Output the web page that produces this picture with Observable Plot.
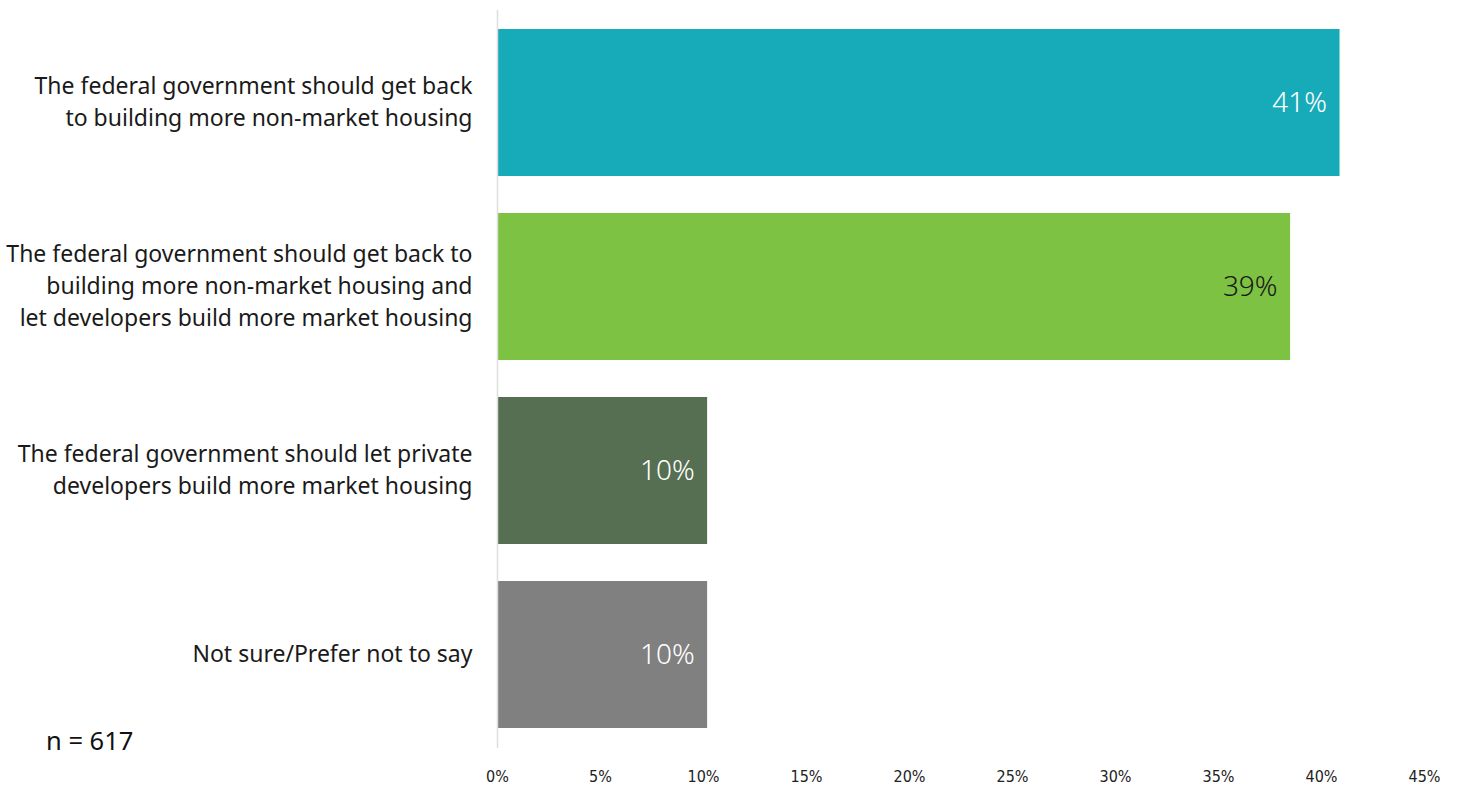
<!DOCTYPE html>
<html>
<head>
<meta charset="utf-8">
<script src="https://cdn.jsdelivr.net/npm/d3@7"></script>
<script src="https://cdn.jsdelivr.net/npm/@observablehq/plot@0.6"></script>
<style>
  html, body { margin: 0; padding: 0; background: #fff; }
  #chart { position: relative; width: 1457px; height: 786px; }
  #n { position: absolute; left: 46px; top: 723px; font: 25.5px "Noto Sans", sans-serif; color: #111; }
</style>
</head>
<body>
<div id="chart"><div id="n">n = 617</div></div>
<script>
const categories = [
  "The federal government should get back\nto building more non-market housing",
  "The federal government should get back to\nbuilding more non-market housing and\nlet developers build more market housing",
  "The federal government should let private\ndevelopers build more market housing",
  "Not sure/Prefer not to say"
];
const values = [40.9, 38.5, 10.2, 10.2];
const valueLabels = ["41%", "39%", "10%", "10%"];
const barColors = ["#17abb9", "#7dc242", "#566e52", "#808080"];
const labelColors = ["#ffffff", "#1a1a1a", "#ffffff", "#ffffff"];
const xTicks = [0, 5, 10, 15, 20, 25, 30, 35, 40, 45];

const data = categories.map((c, i) => ({
  category: c, value: values[i], label: valueLabels[i],
  color: barColors[i], textColor: labelColors[i]
}));

const chart = Plot.plot({
  width: 1457,
  height: 786,
  marginLeft: 497,
  marginRight: 33,
  marginTop: 10,
  marginBottom: 38,
  style: { fontFamily: "'Noto Sans', sans-serif", background: "#fff" },
  x: { domain: [0, 45], ticks: xTicks, label: null },
  y: { domain: categories, padding: 0.2, paddingOuter: 0.1, axis: null },
  marks: [
    Plot.axisX({
      ticks: xTicks, tickSize: 0, tickPadding: 22, label: null,
      tickFormat: d => d + "%", fontSize: 16, fill: "#222",
      fontFamily: "'DejaVu Sans Condensed', 'Liberation Sans Narrow', sans-serif"
    }),
    Plot.barX(data, { x: "value", y: "category", fill: d => d.color }),
    Plot.ruleX([0], { stroke: "#dddddd", strokeWidth: 1.5 }),
    Plot.text(data, {
      x: 0, y: "category", text: "category", textAnchor: "end", dx: -25, dy: -3,
      fontSize: 23, lineHeight: 1.38, fill: "#1a1a1a"
    }),
    Plot.text(data, {
      x: "value", y: "category", text: "label", textAnchor: "end", dx: -13,
      fontSize: 28, fontWeight: 300, fill: d => d.textColor
    })
  ]
});
document.getElementById("chart").prepend(chart);
</script>
</body>
</html>
